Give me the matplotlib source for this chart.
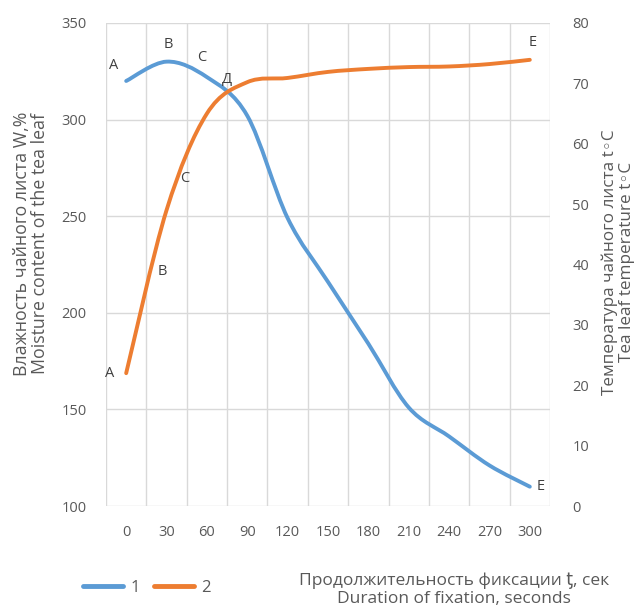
import matplotlib
matplotlib.use('Agg')
import matplotlib.pyplot as plt
from matplotlib.path import Path
from matplotlib.patches import PathPatch
from matplotlib.lines import Line2D
import numpy as np

plt.rcParams['font.family'] = ['Open Sans', 'DejaVu Sans']

# fixation time, seconds (category axis)
times = [0, 30, 60, 90, 120, 150, 180, 210, 240, 270, 300]
# curve 1: moisture content of the leaf, % (left axis)
moisture = [320, 330, 322, 302, 249, 216, 184, 151, 136, 121, 110]
# curve 2: leaf temperature, deg C (right axis)
temperature = [22, 49, 65, 70.2, 70.9, 71.9, 72.4, 72.7, 72.8, 73.2, 73.9]

# stage letters along each curve: (letter, category position, value)
moisture_marks = [('A', -0.32, 328), ('B', 1.04, 339), ('C', 1.88, 332),
                  ('Д', 2.5, 320.5), ('E', 10.26, 110)]
temperature_marks = [('A', -0.4, 22), ('B', 0.89, 38.8), ('C', 1.44, 54.3),
                     ('E', 10.08, 76.7)]

BLUE = '#5B9BD5'
ORANGE = '#ED7D31'
GRID = '#D9D9D9'
TXT = '#595959'


def smooth_path(xs, ys):
    # Catmull-Rom segments converted to cubic Bezier control points
    pts = np.column_stack([xs, ys]).astype(float)
    verts = [pts[0]]
    codes = [Path.MOVETO]
    n = len(pts)
    for i in range(n - 1):
        p0 = pts[i - 1] if i > 0 else pts[i]
        p1 = pts[i]
        p2 = pts[i + 1]
        p3 = pts[i + 2] if i + 2 < n else pts[i + 1]
        c1 = p1 + (p2 - p0) / 6.0
        c2 = p2 - (p3 - p1) / 6.0
        verts += [c1, c2, p2]
        codes += [Path.CURVE4] * 3
    return Path(verts, codes)


fig = plt.figure(figsize=(6.38, 6.12), dpi=100)
ax = fig.add_axes([106 / 638, 1 - 506 / 612, 444 / 638, 483 / 612])
ax2 = ax.twinx()

idx = np.arange(len(times))
ax.add_patch(PathPatch(smooth_path(idx, moisture), fill=False, edgecolor=BLUE,
                       lw=2.8, capstyle='round', joinstyle='round', zorder=3))
ax2.add_patch(PathPatch(smooth_path(idx, temperature), fill=False, edgecolor=ORANGE,
                        lw=2.8, capstyle='round', joinstyle='round', zorder=3))

ax.set_xlim(-0.5, len(times) - 0.5)
ax.set_ylim(100, 350)
ax2.set_ylim(0, 80)
ax.set_yticks(np.arange(100, 351, 50))
ax2.set_yticks(np.arange(0, 81, 10))
ax.set_xticks(idx)
ax.set_xticklabels([str(t) for t in times])
ax.set_xticks(np.arange(-0.5, len(times), 1.0), minor=True)

ax.grid(False)
ax.yaxis.grid(True, color=GRID, lw=1.0)
ax.xaxis.grid(True, which='minor', color=GRID, lw=1.0)
ax.set_axisbelow(True)
for a in (ax, ax2):
    for s in a.spines.values():
        s.set_visible(False)
ax.tick_params(axis='both', which='both', length=0, labelsize=10.5, labelcolor=TXT)
ax.tick_params(axis='y', pad=14)
ax.tick_params(axis='x', pad=14)
ax2.tick_params(axis='y', length=0, labelsize=10.5, labelcolor=TXT, pad=16)

for s, x, y in moisture_marks:
    ax.text(x, y, s, fontsize=10.5, color='#404040', ha='center', va='center', zorder=4)
for s, x, y in temperature_marks:
    ax2.text(x, y, s, fontsize=10.5, color='#404040', ha='center', va='center', zorder=4)

fig.text(31 / 638, 1 - 244 / 612,
         'Влажность чайного листа W,%\nMoisture content of the tea leaf',
         rotation=90, ha='center', va='center', multialignment='center',
         fontsize=12.8, color=TXT, linespacing=1.05)
fig.text(618 / 638, 1 - 262 / 612,
         'Температура чайного листа t◦C\nTea leaf temperature t◦C',
         rotation=90, ha='center', va='center', multialignment='center',
         fontsize=12.3, color=TXT, linespacing=1.05)
fig.text(454 / 638, 1 - 590 / 612,
         'Продолжительность фиксации ƫ, сек\nDuration of fixation, seconds',
         ha='center', va='center', multialignment='center',
         fontsize=12.5, color=TXT, linespacing=1.15)

handles = [Line2D([], [], color=BLUE, lw=3.5, solid_capstyle='round'),
           Line2D([], [], color=ORANGE, lw=3.5, solid_capstyle='round')]
fig.legend(handles, ['1', '2'], loc='center', bbox_to_anchor=(147 / 638, 1 - 588 / 612),
           ncol=2, frameon=False, handlelength=2.4, handletextpad=0.4,
           columnspacing=0.9, fontsize=12, labelcolor=TXT)

fig.savefig('out.png', dpi=100)
